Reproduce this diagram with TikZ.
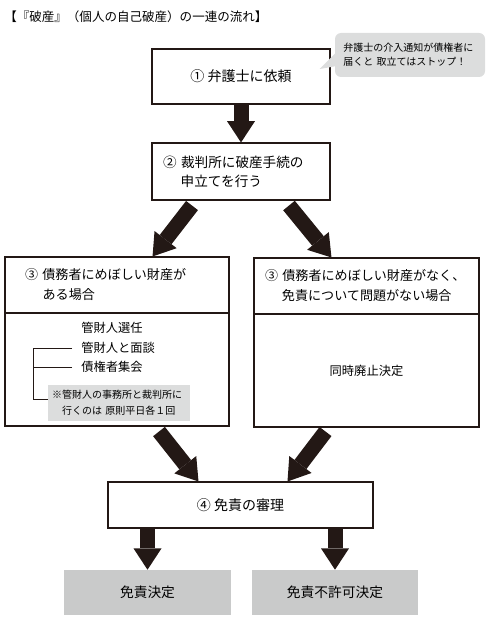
\documentclass[tikz,border=0pt]{standalone}
\usepackage{fontspec}
\setmainfont{Noto Sans CJK JP}
\usetikzlibrary{arrows.meta,calc}
\definecolor{ink}{RGB}{35,24,21}
\definecolor{panelgray}{RGB}{201,202,202}
\definecolor{notegray}{RGB}{220,221,221}
\begin{document}
\begin{tikzpicture}[x=0.75pt, y=-0.75pt,
  flow box/.style={rectangle, draw=ink, line width=0.8pt, fill=white, inner sep=0pt, font=\fontsize{10.5}{15}\selectfont},
  head box/.style={flow box, align=left, font=\fontsize{9.8}{15}\selectfont},
  gray box/.style={rectangle, fill=panelgray, minimum height=33.75pt, font=\fontsize{10.3}{15}\selectfont},
  item/.style={anchor=west, inner sep=0pt, font=\fontsize{9.2}{14}\selectfont},
  big arrow/.style={ink, line width=11.25pt, -{Triangle[length=16pt, width=21pt, line width=0pt]}}]
\useasboundingbox (0,0) rectangle (490,620);

\node [anchor=west, inner sep=0pt, font=\fontsize{9.4}{12}\selectfont](title) at (4,17) {【『破産』（個人の自己破産）の一連の流れ】};

% steps
\node [flow box, minimum width=133.5pt, minimum height=41.25pt](step1) at (241,76.5) {① 弁護士に依頼};
\node [head box, text width=117pt, inner xsep=8.25pt, minimum height=42.75pt, font=\fontsize{10.2}{14.5}\selectfont](step2) at (241,171.5) {② 裁判所に破産手続の\\\hspace*{1.3em}申立てを行う};
\node [head box, text width=138pt, inner xsep=15pt, minimum height=42pt](head3l) at (117,285) {③ 債務者にめぼしい財産が\\\hspace*{1.35em}ある場合};
\node [flow box, minimum width=168pt, minimum height=84.75pt](body3l) at (117,369.5) {};
\node [head box, text width=152.25pt, inner xsep=8.25pt, minimum height=42pt](head3r) at (366.5,286) {③ 債務者にめぼしい財産がなく、\\\hspace*{1.3em}免責について問題がない場合};
\node [flow box, minimum width=168.75pt, minimum height=84.75pt, font=\fontsize{9.2}{14}\selectfont](body3r) at (366.5,370.5) {同時廃止決定};
\node [flow box, minimum width=198.75pt, minimum height=34.5pt](step4) at (240.5,505) {④ 免責の審理};
\node [gray box, minimum width=125.25pt](ok) at (147.5,592.5) {免責決定};
\node [gray box, minimum width=124.5pt](ng) at (335,592.5) {免責不許可決定};

% inside box 3 (left)
\node [item](it1) at (81,328) {管財人選任};
\node [item](it2) at (81,348) {管財人と面談};
\node [item](it3) at (81,367) {債権者集会};
\node [rectangle, fill=notegray, align=left, text width=100.5pt, inner xsep=3pt, minimum height=27pt, font=\fontsize{7.5}{12}\selectfont](memo) at (119,403) {※管財人の事務所と裁判所に\\\hspace*{7.5pt}行くのは 原則平日各１回};
\coordinate (brk) at (33,399);
\draw [ink, line width=0.7pt] ([xshift=-6.75pt]it2.west) -| (brk) -- (brk -| memo.west);
\draw [ink, line width=0.7pt] ([xshift=-6.75pt]it3.west) -- (it3.west -| brk);

% speech bubble
\node [rectangle, rounded corners=4.5pt, fill=notegray, align=left, text width=100pt, inner xsep=6.25pt, minimum height=33pt, font=\fontsize{7.5}{10.5}\selectfont](talk) at (410,55) {弁護士の介入通知が債権者に\\届くと 取立てはストップ！};
\fill [notegray] ($(talk.west)+(2,-3)$) -- ($(talk.west)+(2,11)$) -- ($(talk.west)+(-15,14)$) -- cycle;

\draw [big arrow] (step1) -- (step2);
\draw [big arrow] ($(step2.south)+(-49,5)$) -- ($(head3l.north east)+(-77,0)$);
\draw [big arrow] ($(step2.south)+(48,5)$) -- ($(head3r.north west)+(78,0)$);
\draw [big arrow] ($(body3l.south)+(42,5)$) -- ($(step4.north)+(-42,0)$);
\draw [big arrow] ($(body3r.south)+(-41,4)$) -- ($(step4.north)+(47,0)$);
\draw [big arrow] (ok.north |- step4.south) -- (ok.north);
\draw [big arrow] (ng.north |- step4.south) -- (ng.north);
\end{tikzpicture}
\end{document}
